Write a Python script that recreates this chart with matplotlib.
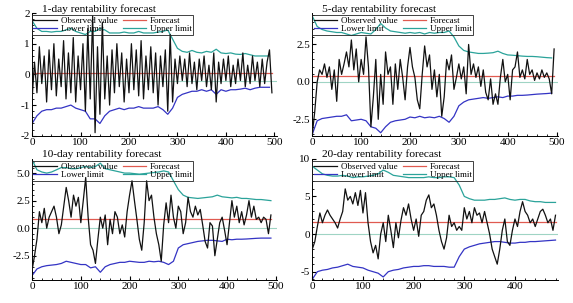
import numpy as np
import matplotlib
matplotlib.use("Agg")
import matplotlib.pyplot as plt
from matplotlib.ticker import MultipleLocator, FormatStrFormatter

plt.rcParams['font.family'] = ['Liberation Serif', 'DejaVu Serif']

titles = ['1-day rentability forecast', '5-day rentability forecast',
          '10-day rentability forecast', '20-day rentability forecast']

# observed values, one point every 5 days
obs_1 = [-0.8, 0.4, -0.6, 0.9, -0.3, 0.6, -0.9, 0.8, -0.5, 1.0, -0.7, 0.5, -0.4, 1.1, -0.8, 0.7, -0.6, 1.2, -0.9, 0.6,
         -0.5, 1.0, -1.2, 1.5, -0.8, 1.9, -1.9, 0.9, -1.3, 1.7, -0.8, 0.6, -1.0, 0.8, -0.6, 1.0, -0.4, 0.7, -0.9, 0.5,
         -0.6, 1.0, -0.5, 0.8, -0.7, 1.1, -0.8, 0.6, -0.5, 0.9, -0.6, 0.7, -1.0, 0.6, -0.4, 0.8, -1.2, 1.3, -0.9, 0.5,
         -0.3, 0.6, -0.2, 0.5, -0.4, 0.7, -0.3, 0.4, -0.5, 0.5, -0.2, 0.6, -0.4, 0.3, -0.5, 0.7, -0.9, 0.4, -0.3, 0.5,
         -0.2, 0.6, -0.4, 0.3, -0.3, 0.5, -0.2, 0.7, -0.4, 0.3, -0.3, 0.6, -0.2, 0.4, -0.4, 0.5, -0.3, 0.4, 0.8, -0.6]
obs_5 = [-3.5, -2.0, 0.0, 0.8, 0.5, 1.2, 0.3, 1.0, -0.5, 0.8, -1.3, 1.5, 0.5, 1.2, 2.0, 1.0, 2.8, 0.8, 2.2, 0.0,
         1.5, 0.5, 3.0, 1.0, -3.0, -1.0, 1.5, -2.5, 0.5, -1.5, 2.0, 0.5, 1.0, -1.5, 1.2, -0.5, 1.5, 0.3, -1.2, 1.0,
         2.3, 1.0, 0.3, -1.2, -1.8, 0.5, 2.4, 1.0, 1.8, -0.5, 0.8, -1.0, 0.5, -2.3, -1.0, 1.5, 0.8, 1.8, -0.5, 0.3,
         1.2, 0.2, 1.0, -0.8, 2.5, 0.5, 1.2, 0.3, 1.0, -0.3, 0.8, -0.7, -1.2, 0.2, -1.5, -0.8, -1.5, 0.3, 1.5, 0.0,
         0.5, -1.2, 0.8, 1.0, 2.0, 0.3, 0.8, 0.2, 1.5, 0.5, 0.8, 0.1, 0.6, 0.2, 0.8, 0.3, 0.6, 0.2, -0.8, 2.2]
obs_10 = [-3.8, -2.5, -1.0, 1.5, 0.5, 1.8, 0.0, 1.0, 1.5, 2.0, 1.0, -0.5, 0.3, 2.0, 3.7, 2.5, 1.0, 3.0, 2.0, 2.8,
          0.5, 2.5, 4.6, 1.0, -1.5, -2.0, -3.2, -1.0, 1.0, 0.0, 1.2, -1.5, 0.8, -0.5, 1.5, 1.0, -0.5, 0.3, -0.8, 1.5,
          3.0, 4.3, 2.5, 0.8, -1.0, -2.0, 0.5, 4.3, 2.5, 3.0, 1.0, -0.5, -1.5, -3.0, 0.3, 2.3, 0.5, 3.0, 1.0, 0.0,
          2.0, 1.5, -0.5, 0.5, 2.8, 1.5, 1.0, 2.0, 1.2, 1.7, 0.3, -1.2, -1.8, 0.5, 0.2, -2.5, -1.0, 0.5, 1.0, -0.2,
          -1.5, 0.5, 2.5, 1.0, 2.0, 0.5, 1.5, 0.3, 1.2, 2.5, 1.0, 2.0, 0.8, 1.0, 0.5, 1.0, 0.8, -0.5, 1.2]
obs_20 = [-2.0, -1.0, 1.0, 2.8, 1.5, 2.5, 3.2, 2.5, 2.0, 1.5, 0.8, 2.0, 3.0, 6.0, 4.5, 5.0, 4.0, 5.5, 3.8, 5.8,
          2.8, 5.5, 1.5, -1.0, -2.5, -1.5, -3.3, 0.0, 1.5, -1.0, 2.5, 0.5, -1.8, 1.5, -0.5, 1.8, 3.5, 2.5, 4.0, 2.0,
          0.5, 2.0, -0.3, 2.5, 3.0, 4.5, 5.2, 3.5, 4.0, 2.5, 0.5, -1.0, -2.0, -0.5, 2.5, 1.0, 1.5, 0.5, 1.0, 0.5,
          3.5, 2.0, 3.0, 1.5, 3.5, 2.5, 2.8, 1.5, 3.0, 1.5, 0.0, -2.0, -3.0, -4.0, -2.0, 0.5, 2.0, -1.0, -1.5, 0.5,
          2.0, 1.0, 3.0, 4.3, 3.0, 2.5, 1.5, 2.0, 1.0, 2.0, 3.0, 3.3, 2.5, 1.5, 2.0, 0.5, 2.5]

# lower / upper limits, one point every 10 days
low_1 = [-1.6, -1.35, -1.2, -1.15, -1.15, -1.1, -1.1, -1.05, -1.0, -1.1, -1.15, -1.2, -1.45, -1.45, -1.6, -1.35, -1.2,
         -1.15, -1.1, -1.15, -1.1, -1.1, -1.05, -1.1, -1.1, -1.1, -1.05, -1.15, -1.3, -1.1, -0.75, -0.65, -0.6, -0.55,
         -0.55, -0.5, -0.55, -0.5, -0.65, -0.5, -0.55, -0.5, -0.5, -0.48, -0.45, -0.5, -0.45, -0.42, -0.42, -0.42]
up_1 = [1.75, 1.5, 1.4, 1.4, 1.38, 1.4, 1.4, 1.45, 1.5, 1.4, 1.35, 1.3, 1.4, 1.4, 1.5, 1.45, 1.35, 1.35, 1.35, 1.38,
        1.35, 1.35, 1.4, 1.35, 1.35, 1.35, 1.38, 1.4, 1.45, 1.15, 0.85, 0.75, 0.72, 0.78, 0.72, 0.7, 0.75, 0.72, 0.82,
        0.7, 0.68, 0.7, 0.66, 0.65, 0.68, 0.64, 0.6, 0.6, 0.6, 0.6]
low_5 = [-3.5, -2.6, -2.45, -2.4, -2.35, -2.3, -2.3, -2.2, -2.6, -2.55, -2.5, -2.6, -3.0, -3.1, -3.4, -3.0, -2.7,
         -2.6, -2.55, -2.5, -2.35, -2.4, -2.3, -2.4, -2.35, -2.4, -2.3, -2.45, -2.7, -2.3, -1.6, -1.35, -1.2, -1.15,
         -1.1, -1.05, -1.1, -1.05, -1.0, -1.05, -0.95, -0.95, -0.9, -0.9, -0.88, -0.85, -0.82, -0.8, -0.78, -0.75]
up_5 = [4.4, 3.7, 3.5, 3.4, 3.35, 3.3, 3.3, 3.2, 3.1, 3.2, 3.3, 3.25, 3.2, 3.5, 3.9, 3.6, 3.4, 3.35, 3.3, 3.25,
        3.3, 3.25, 3.3, 3.2, 3.3, 3.25, 3.3, 3.3, 3.4, 3.0, 2.4, 2.1, 2.0, 1.95, 1.9, 1.9, 1.92, 1.95, 2.05, 1.9,
        1.8, 1.78, 1.75, 1.72, 1.7, 1.7, 1.68, 1.65, 1.62, 1.6]
low_10 = [-4.3, -3.7, -3.5, -3.4, -3.35, -3.3, -3.2, -3.0, -3.1, -3.2, -3.3, -3.3, -3.6, -3.5, -4.0, -3.5, -3.3,
          -3.2, -3.1, -3.1, -3.0, -3.05, -3.1, -3.1, -3.0, -3.05, -3.0, -3.1, -3.3, -3.0, -1.8, -1.5, -1.4, -1.3,
          -1.2, -1.15, -1.1, -1.1, -1.15, -1.2, -1.0, -1.05, -1.0, -1.0, -0.98, -0.95, -0.92, -0.9, -0.9, -0.9]
up_10 = [6.2, 5.3, 5.1, 5.0, 5.1, 5.3, 5.5, 5.5, 5.4, 5.4, 5.5, 5.6, 5.5, 5.6, 5.9, 5.4, 5.3, 5.2, 5.1, 5.0,
         5.0, 4.95, 4.9, 4.95, 5.0, 5.05, 5.1, 5.2, 5.1, 4.3, 3.5, 3.0, 2.8, 2.75, 2.7, 2.75, 2.8, 2.85, 3.0, 2.85,
         2.8, 2.75, 2.8, 2.7, 2.7, 2.65, 2.6, 2.6, 2.55, 2.5]
low_20 = [-6.0, -5.0, -4.8, -4.7, -4.5, -4.4, -4.2, -4.0, -4.3, -4.4, -4.5, -4.8, -5.0, -5.2, -5.7, -5.0, -4.8,
          -4.7, -4.5, -4.4, -4.3, -4.3, -4.2, -4.2, -4.3, -4.3, -4.3, -4.4, -4.4, -3.0, -2.0, -1.7, -1.5, -1.3,
          -1.2, -1.1, -1.0, -1.0, -1.1, -1.2, -1.2, -1.1, -1.1, -1.0, -1.0, -0.95, -0.9, -0.85, -0.8]
up_20 = [9.0, 8.5, 8.0, 7.8, 7.7, 7.7, 7.8, 7.7, 7.5, 7.6, 7.6, 7.7, 7.8, 8.0, 8.5, 8.2, 7.8, 7.7, 7.6, 7.5,
         7.5, 7.5, 7.5, 7.6, 7.5, 7.5, 7.6, 7.6, 7.5, 6.5, 5.0, 4.7, 4.5, 4.5, 4.5, 4.6, 4.6, 4.7, 4.8, 4.6,
         4.5, 4.6, 4.6, 4.4, 4.3, 4.3, 4.2, 4.2, 4.2]

forecasts = [0.05, 0.4, 0.8, 1.6]
zero_levels = [-0.2, 0.0, 0.0, 0.0]

observed = [obs_1, obs_5, obs_10, obs_20]
lowers = [low_1, low_5, low_10, low_20]
uppers = [up_1, up_5, up_10, up_20]
ylims = [(-2.0, 2.0), (-3.6, 4.6), (-4.7, 6.3), (-6.1, 10.0)]
xmaxs = [505, 502, 502, 484]
ysteps = [1, 2.5, 2.5, 5]
yfmts = ['%d', '%.1f', '%.1f', '%d']

positions = [[0.056, 0.552, 0.427, 0.405], [0.545, 0.552, 0.428, 0.405],
             [0.056, 0.076, 0.427, 0.400], [0.545, 0.076, 0.428, 0.400]]

fig = plt.figure(figsize=(5.73, 3.03), dpi=100)

for i in range(4):
    ax = fig.add_axes(positions[i])
    xo = np.arange(len(observed[i])) * 5
    xl = np.arange(len(lowers[i])) * 10
    xmax = xo[-1]
    ax.axhline(zero_levels[i], color='#9fd4c4', lw=0.8, zorder=1)
    h_obs, = ax.plot(xo, observed[i], color='#111111', lw=0.9, zorder=3)
    h_fc, = ax.plot([0, xmax], [forecasts[i]] * 2, color='#e05a50', lw=0.9, zorder=2)
    h_lo, = ax.plot(xl, lowers[i], color='#3434c4', lw=0.9, zorder=2)
    h_up, = ax.plot(xl, uppers[i], color='#2ba39a', lw=0.9, zorder=2)

    ax.set_xlim(0, xmaxs[i])
    ax.set_ylim(*ylims[i])
    ax.xaxis.set_major_locator(MultipleLocator(100))
    ax.xaxis.set_minor_locator(MultipleLocator(20))
    ax.yaxis.set_major_locator(MultipleLocator(ysteps[i]))
    ax.yaxis.set_minor_locator(MultipleLocator(ysteps[i] / 5))
    ax.yaxis.set_major_formatter(FormatStrFormatter(yfmts[i]))
    ax.tick_params(which='both', direction='in', labelsize=8, pad=1.5)
    ax.tick_params(which='major', length=3)
    ax.tick_params(which='minor', length=1.5)
    for s in ['top', 'right']:
        ax.spines[s].set_visible(False)
    for s in ['left', 'bottom']:
        ax.spines[s].set_linewidth(0.7)

    ax.text(0.04, 0.995, titles[i], transform=ax.transAxes, fontsize=8.2,
            ha='left', va='bottom')
    # column-major fill: row 1 Observed/Forecast, row 2 Lower/Upper
    leg = ax.legend([h_obs, h_lo, h_fc, h_up],
                    ['Observed value', 'Lower limit', 'Forecast', 'Upper limit'],
                    loc='upper left', ncol=2, fontsize=6.5, frameon=True,
                    bbox_to_anchor=(0.0, 0.98), borderaxespad=0.0,
                    handlelength=2.6, columnspacing=0.6, labelspacing=0.0,
                    borderpad=0.15, handletextpad=0.4, fancybox=False)
    leg.get_frame().set_edgecolor('#222222')
    leg.get_frame().set_linewidth(0.6)
    leg.get_frame().set_alpha(None)
    leg.get_frame().set_facecolor('none')

fig.savefig('out.png', dpi=100)
